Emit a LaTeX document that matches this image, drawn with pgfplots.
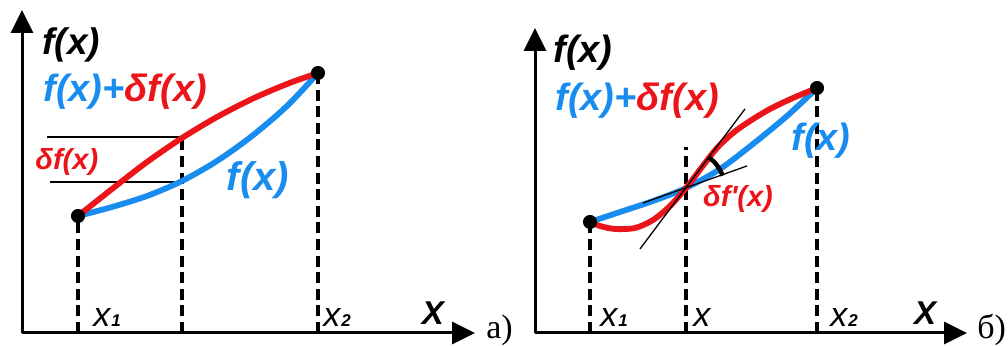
\documentclass[border=0pt]{standalone}
\usepackage{pgfplots}
\pgfplotsset{compat=1.18}
\usetikzlibrary{arrows.meta}
\usepackage{fontspec}
\newfontfamily\arial{Liberation Sans}
\newfontfamily\tnr{Liberation Serif}
\definecolor{cred}{RGB}{235,20,25}
\definecolor{cblue}{RGB}{25,140,240}
\newcommand\fs[1]{\fontsize{#1}{#1}\selectfont}
\newcommand\bi{\arial\bfseries\itshape}
\newcommand\xs[1]{{\arial\itshape\fs{17}x\hspace{0.5pt}{\bfseries\fs{8.5}#1}}}
\pgfplotsset{
  sk/.style={x=0.5pt,y=0.5pt,xmin=0,ymin=0,axis lines=left,
    axis line style={line width=1.5pt,-{Triangle[length=11.5pt,width=11pt]}},
    xtick=\empty,ytick=\empty,clip=false,anchor=origin},
  dsh/.style={black,line width=1.6pt,dash pattern=on 5.5pt off 2.8pt},
  thn/.style={black,line width=0.65pt},
  crv/.style={line width=2.9pt,smooth,line cap=round},
  dot/.style={only marks,mark=*,mark size=3.3pt,black}
}
\begin{document}
\begin{tikzpicture}
\useasboundingbox (0,0) rectangle (504pt,173pt);
% ---------- panel a ----------
\begin{axis}[sk,xmax=453,ymax=323,at={(11pt,6.5pt)}]
\addplot[dsh] coordinates {(56,0)(56,117)};
\addplot[dsh] coordinates {(160,0)(160,196)};
\addplot[dsh] coordinates {(296,0)(296,260)};
\addplot[thn] coordinates {(25,196)(160,196)};
\addplot[thn] coordinates {(28,151)(160,151)};
\addplot[crv,cblue] coordinates {(56,117)(90,126)(125,137)(160,152)(195,172)(230,197)(265,227)(296,260)};
\addplot[crv,cred] coordinates {(56,117)(90,144)(125,171)(160,195)(195,216)(230,234)(265,249)(296,260)};
\addplot[dot] coordinates {(56,117)(296,260)};
\node[anchor=west,inner sep=0] at (axis cs:20,288) {\bi\fs{18.5}f(x)};
\node[anchor=west,inner sep=0] at (axis cs:21,241) {\bi\fs{19}\textcolor{cblue}{f(x)+}\textcolor{cred}{δf(x)}};
\node[anchor=west,inner sep=0] at (axis cs:13,171) {\bi\fs{14.5}\textcolor{cred}{δf(x)}};
\node[anchor=center,inner sep=0] at (axis cs:236,153) {\bi\fs{20}\textcolor{cblue}{f(x)}};
\node[anchor=base west,inner sep=0] at (axis cs:71,6) {\xs{1}};
\node[anchor=base west,inner sep=0] at (axis cs:301,6) {\xs{2}};
\node[anchor=center,inner sep=0] at (axis cs:411,20) {\bi\fs{16.5}X};
\node[anchor=base west,inner sep=0] at (axis cs:464,-6) {\tnr\fs{17}a)};
\end{axis}
% ---------- panel b ----------
\begin{axis}[sk,xmax=432,ymax=305,at={(267.5pt,6.5pt)}]
\addplot[dsh] coordinates {(55,0)(55,111)};
\addplot[dsh] coordinates {(151,0)(151,186)};
\addplot[dsh] coordinates {(282,0)(282,245)};
\addplot[crv,cblue] coordinates {(55,111)(85,121)(118,132)(151,145)(185,164)(218,189)(252,217)(282,245)};
\addplot[crv,cred] coordinates {(55,111)(65,107)(80,104)(100,105)(118,113)(135,127)(151,145)(167,166)(182,185)(198,200)(215,212)(235,224)(258,235)(282,245)};
\addplot[thn] coordinates {(105,84)(210,224)};
\addplot[thn] coordinates {(108,130)(212,167)};
\addplot[black,line width=2.2pt,smooth] coordinates {(174.5,175.1)(178.6,171.6)(182.1,167.5)(185.4,162.3)(187.6,157.3)};
\addplot[dot] coordinates {(55,111)(282,245)};
\node[anchor=west,inner sep=0] at (axis cs:18,280) {\bi\fs{19}f(x)};
\node[anchor=west,inner sep=0] at (axis cs:20,232) {\bi\fs{19}\textcolor{cblue}{f(x)+}\textcolor{cred}{δf(x)}};
\node[anchor=center,inner sep=0] at (axis cs:286,192) {\bi\fs{19}\textcolor{cblue}{f(x)}};
\node[anchor=center,inner sep=0] at (axis cs:203,134) {\bi\fs{14.5}\textcolor{cred}{δf'(x)}};
\node[anchor=base west,inner sep=0] at (axis cs:65,6) {\xs{1}};
\node[anchor=base west,inner sep=0] at (axis cs:158,6) {{\arial\itshape\fs{17}x}};
\node[anchor=base west,inner sep=0] at (axis cs:295,6) {\xs{2}};
\node[anchor=center,inner sep=0] at (axis cs:390,20) {\bi\fs{16.5}X};
\node[anchor=base west,inner sep=0] at (axis cs:442,-6) {\tnr\fs{17}б)};
\end{axis}
\end{tikzpicture}
\end{document}
